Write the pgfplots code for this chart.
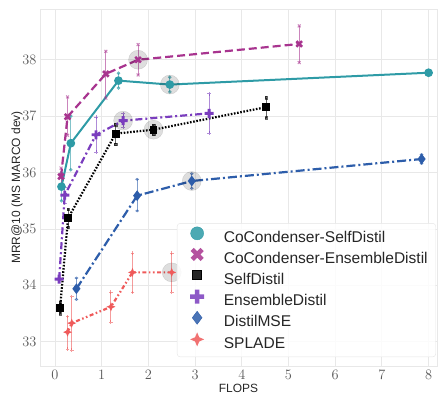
\documentclass[border=0pt]{standalone}
\usepackage[no-math]{fontspec}
\setmainfont{Liberation Sans}
\usepackage{pgfplots}
\pgfplotsset{compat=1.18}

\definecolor{cTeal}{HTML}{2E9BA6}
\definecolor{cMag}{HTML}{A8348F}
\definecolor{cPurp}{HTML}{7A3DBE}
\definecolor{cBlue}{HTML}{2D5DAA}
\definecolor{cRed}{HTML}{EF5A5A}
\definecolor{cGrid}{HTML}{E8E8E8}

% filled plus / cross / four-point star marks
\pgfdeclareplotmark{fplus}{%
  \pgfmathsetmacro\w{0.32*\pgfplotmarksize}%
  \pgfpathmoveto{\pgfpoint{\w pt}{\pgfplotmarksize}}%
  \pgfpathlineto{\pgfpoint{\w pt}{\w pt}}%
  \pgfpathlineto{\pgfpoint{\pgfplotmarksize}{\w pt}}%
  \pgfpathlineto{\pgfpoint{\pgfplotmarksize}{-\w pt}}%
  \pgfpathlineto{\pgfpoint{\w pt}{-\w pt}}%
  \pgfpathlineto{\pgfpoint{\w pt}{-\pgfplotmarksize}}%
  \pgfpathlineto{\pgfpoint{-\w pt}{-\pgfplotmarksize}}%
  \pgfpathlineto{\pgfpoint{-\w pt}{-\w pt}}%
  \pgfpathlineto{\pgfpoint{-\pgfplotmarksize}{-\w pt}}%
  \pgfpathlineto{\pgfpoint{-\pgfplotmarksize}{\w pt}}%
  \pgfpathlineto{\pgfpoint{-\w pt}{\w pt}}%
  \pgfpathlineto{\pgfpoint{-\w pt}{\pgfplotmarksize}}%
  \pgfpathclose\pgfusepathqfill}
\pgfdeclareplotmark{fcross}{%
  \pgftransformrotate{45}\pgfuseplotmark{fplus}}
\pgfdeclareplotmark{fstar}{%
  \pgfmathsetmacro\w{0.3*\pgfplotmarksize}%
  \pgfpathmoveto{\pgfpoint{0pt}{\pgfplotmarksize}}%
  \pgfpathlineto{\pgfpoint{\w pt}{\w pt}}%
  \pgfpathlineto{\pgfpoint{\pgfplotmarksize}{0pt}}%
  \pgfpathlineto{\pgfpoint{\w pt}{-\w pt}}%
  \pgfpathlineto{\pgfpoint{0pt}{-\pgfplotmarksize}}%
  \pgfpathlineto{\pgfpoint{-\w pt}{-\w pt}}%
  \pgfpathlineto{\pgfpoint{-\pgfplotmarksize}{0pt}}%
  \pgfpathlineto{\pgfpoint{-\w pt}{\w pt}}%
  \pgfpathclose\pgfusepathqfill}

\begin{document}
\begin{tikzpicture}
\useasboundingbox (-40bp,-31bp) rectangle (400bp,366bp);
\begin{axis}[
  scale only axis, width=397bp, height=357bp,
  at={(0,0)}, anchor=south west,
  xmin=-0.32, xmax=8.18, ymin=32.57, ymax=38.9,
  xtick={0,...,8}, ytick={33,...,38},
  major tick length=0pt,
  grid=major, major grid style={cGrid, line width=0.8bp},
  axis line style={cGrid, line width=0.8bp},
  tick label style={font=\fontsize{14}{14}\selectfont, text=black!65},
  xticklabel style={yshift=-1bp},
  xlabel={FLOPS}, ylabel={MRR@10 (MS MARCO dev)},
  label style={font=\fontsize{12}{12}\selectfont, text=black!85},
  xlabel style={yshift=2bp},
  ylabel style={yshift=-7bp},
  error bars/error bar style={solid, line width=1bp, opacity=0.6},
  legend cell align=left,
  legend style={
    at={(0.345,0.025)}, anchor=south west,
    font=\fontsize{15.6}{15.6}\selectfont, text=black!85,
    draw=black!10, fill=white, fill opacity=0.85, text opacity=1,
    rounded corners=3bp, inner xsep=6bp, inner ysep=3.5bp,
    row sep=0.6bp,
    nodes={inner sep=2bp, text height=11bp, text depth=3bp},
  },
  legend image code/.code={%
    \path[draw=none, fill=none] (-14bp,-3bp) rectangle (24.7bp,11bp);
    \draw[#1] plot coordinates {(0bp,5bp)};},
]

% highlighted configurations
\addplot[only marks, mark=*, mark size=9.5bp, draw=none, fill=black, opacity=0.13, forget plot]
  coordinates {(1.78,38.0) (2.46,37.56) (1.46,36.92) (2.11,36.76) (2.93,35.85) (2.50,34.23)};

% CoCondenser-SelfDistil
\addplot[forget plot, cTeal, line width=2bp, mark=*, mark size=3.3bp, mark options={solid},
  error bars/.cd, y dir=both, y explicit, error mark=*,
  error mark options={cTeal, mark size=1.6bp, solid}]
  coordinates {
    (0.14,35.75) += (0,0.25) -= (0,0.25)
    (0.34,36.52) += (0,0.48) -= (0,0.47)
    (1.36,37.63) += (0,0.13) -= (0,0.13)
    (2.46,37.56) += (0,0.13) -= (0,0.13)
    (8.00,37.77) += (0,0) -= (0,0)
  };

% CoCondenser-EnsembleDistil
\addplot[forget plot, cMag, line width=2.2bp, dash pattern=on 8bp off 4bp, mark=fcross, mark size=4bp, mark options={solid},
  error bars/.cd, y dir=both, y explicit, error mark=x,
  error mark options={cMag, mark size=2bp, solid, line width=1bp}]
  coordinates {
    (0.13,35.93) += (0,0.15) -= (0,0.15)
    (0.27,36.99) += (0,0.35) -= (0,0.33)
    (1.09,37.75) += (0,0.40) -= (0,0.43)
    (1.78,38.00) += (0,0.27) -= (0,0.27)
    (5.23,38.28) += (0,0.32) -= (0,0.33)
  };

% SelfDistil
\addplot[forget plot, black, line width=2.2bp, dash pattern=on 1.6bp off 1.6bp, mark=square*, mark size=2.8bp, mark options={solid},
  error bars/.cd, y dir=both, y explicit, error mark=square*,
  error mark options={black, mark size=1.3bp, solid}]
  coordinates {
    (0.11,33.60) += (0,0.10) -= (0,0.10)
    (0.28,35.19) += (0,0.16) -= (0,0.16)
    (1.30,36.69) += (0,0.16) -= (0,0.19)
    (2.11,36.76) += (0,0.08) -= (0,0.08)
    (4.52,37.16) += (0,0.17) -= (0,0.19)
  };

% EnsembleDistil
\addplot[forget plot, cPurp, line width=2.2bp, dash pattern=on 7bp off 3bp on 2bp off 3bp, mark=fplus, mark size=4.5bp, mark options={solid},
  error bars/.cd, y dir=both, y explicit, error mark=+,
  error mark options={cPurp, mark size=2bp, solid, line width=1bp}]
  coordinates {
    (0.09,34.11) += (0,0) -= (0,0)
    (0.21,35.60) += (0,0.14) -= (0,0.14)
    (0.88,36.67) += (0,0.31) -= (0,0.31)
    (1.46,36.92) += (0,0.12) -= (0,0.12)
    (3.30,37.05) += (0,0.35) -= (0,0.35)
  };

% DistilMSE
\addplot[forget plot, cBlue, line width=2.2bp, dash pattern=on 9bp off 3bp on 2bp off 3bp, mark=diamond*, mark size=3.6bp, mark options={solid},
  error bars/.cd, y dir=both, y explicit, error mark=diamond*,
  error mark options={cBlue, mark size=1.6bp, solid}]
  coordinates {
    (0.46,33.94) += (0,0.19) -= (0,0.19)
    (1.76,35.59) += (0,0.29) -= (0,0.27)
    (2.93,35.85) += (0,0.13) -= (0,0.13)
    (7.85,36.24) += (0,0.08) -= (0,0.08)
  };

% SPLADE
\addplot[forget plot, cRed, line width=2.2bp, dash pattern=on 4bp off 2.5bp on 1.6bp off 2.5bp on 1.6bp off 2.5bp, mark=fstar, mark size=4.5bp, mark options={solid},
  error bars/.cd, y dir=both, y explicit, error mark=+,
  error mark options={cRed, mark size=1.8bp, solid, line width=1bp}]
  coordinates {
    (0.27,33.17) += (0,0.28) -= (0,0.30)
    (0.36,33.33) += (0,0.47) -= (0,0.48)
    (1.20,33.62) += (0,0.26) -= (0,0.27)
    (1.66,34.23) += (0,0.34) -= (0,0.36)
    (2.50,34.23) += (0,0.34) -= (0,0.35)
  };

% legend markers
\addlegendimage{only marks, mark=*, mark size=6.5bp, cTeal}
\addlegendentry{CoCondenser-SelfDistil}
\addlegendimage{only marks, mark=fcross, mark size=7bp, cMag}
\addlegendentry{CoCondenser-EnsembleDistil}
\addlegendimage{only marks, mark=square*, mark size=4.5bp, black}
\addlegendentry{SelfDistil}
\addlegendimage{only marks, mark=fplus, mark size=7bp, cPurp}
\addlegendentry{EnsembleDistil}
\addlegendimage{only marks, mark=diamond*, mark size=6.5bp, cBlue}
\addlegendentry{DistilMSE}
\addlegendimage{only marks, mark=fstar, mark size=7bp, cRed}
\addlegendentry{SPLADE}
\end{axis}
\end{tikzpicture}
\end{document}
